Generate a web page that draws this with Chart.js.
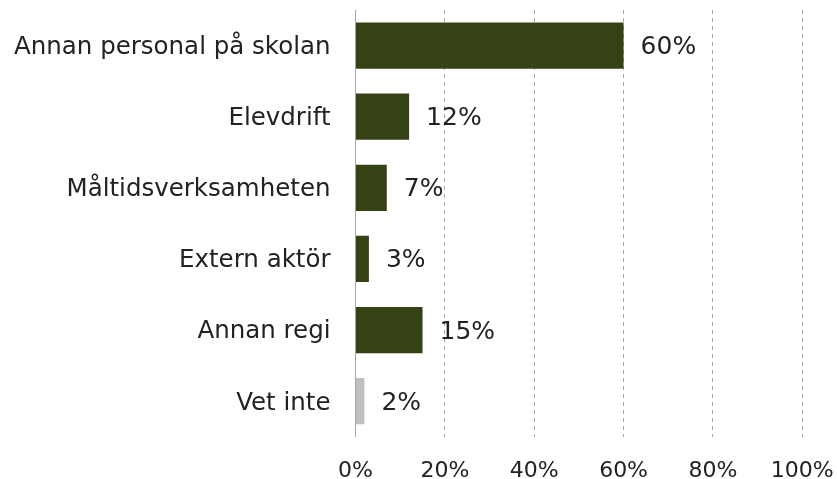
<!DOCTYPE html>
<html lang="sv">
<head>
  <meta charset="UTF-8">
  <title>Ansvar</title>
  <script src="https://cdn.jsdelivr.net/npm/chart.js"></script>
  <style>
    html, body { margin: 0; padding: 0; background: #fff; }
    #wrap { width: 837px; height: 479px; }
  </style>
</head>
<body>
  <div id="wrap"><canvas id="barChart" width="837" height="479"></canvas></div>

  <script>
    const categories = ['Annan personal på skolan', 'Elevdrift', 'Måltidsverksamheten', 'Extern aktör', 'Annan regi', 'Vet inte'];
    const values = [60, 12, 7, 3, 15, 2];
    const barColors = ['#344215', '#344215', '#344215', '#344215', '#344215', '#c0c0c0'];
    const xTicks = [0, 20, 40, 60, 80, 100];

    const FONT = "'DejaVu Sans', Verdana, sans-serif";
    const TEXT = '#222222';

    // value labels to the right of each bar
    const valueLabels = {
      id: 'valueLabels',
      afterDatasetsDraw(chart) {
        const ctx = chart.ctx;
        const meta = chart.getDatasetMeta(0);
        ctx.save();
        ctx.font = '25px ' + FONT;
        ctx.fillStyle = TEXT;
        ctx.textAlign = 'left';
        ctx.textBaseline = 'middle';
        meta.data.forEach((bar, i) => {
          ctx.fillText(values[i] + '%', bar.x + 17, bar.y + 2);
        });
        ctx.restore();
      }
    };

    new Chart(document.getElementById('barChart'), {
      type: 'bar',
      data: {
        labels: categories,
        datasets: [{
          data: values,
          backgroundColor: barColors,
          borderWidth: 0,
          barPercentage: 0.65,
          categoryPercentage: 1
        }]
      },
      options: {
        indexAxis: 'y',
        responsive: false,
        animation: false,
        layout: { padding: { top: 10, right: 34.7, left: 0, bottom: 0 } },
        plugins: {
          legend: { display: false },
          tooltip: { enabled: false }
        },
        scales: {
          x: {
            min: 0,
            max: 100,
            afterBuildTicks(scale) {
              scale.ticks = xTicks.map(v => ({ value: v }));
            },
            afterFit(scale) {
              scale.height = 42.3;
              scale.paddingLeft = 0;
              scale.paddingRight = 0;
            },
            border: { display: false, dash: [4, 4] },
            grid: {
              drawTicks: false,
              color: c => c.tick && c.tick.value === 0 ? 'rgba(0,0,0,0)' : '#a6a6a6',
              lineWidth: 1
            },
            ticks: {
              padding: 21,
              color: TEXT,
              font: { family: FONT, size: 22 },
              callback: v => v + '%'
            }
          },
          y: {
            afterFit(scale) {
              scale.width = 355.5;
              scale.paddingTop = 0;
              scale.paddingBottom = 0;
            },
            border: { display: true, color: '#a6a6a6', width: 1 },
            grid: { display: false, drawTicks: false },
            ticks: {
              padding: 25,
              labelOffset: 2,
              color: TEXT,
              font: { family: FONT, size: 24.5 }
            }
          }
        }
      },
      plugins: [valueLabels]
    });
  </script>
</body>
</html>
